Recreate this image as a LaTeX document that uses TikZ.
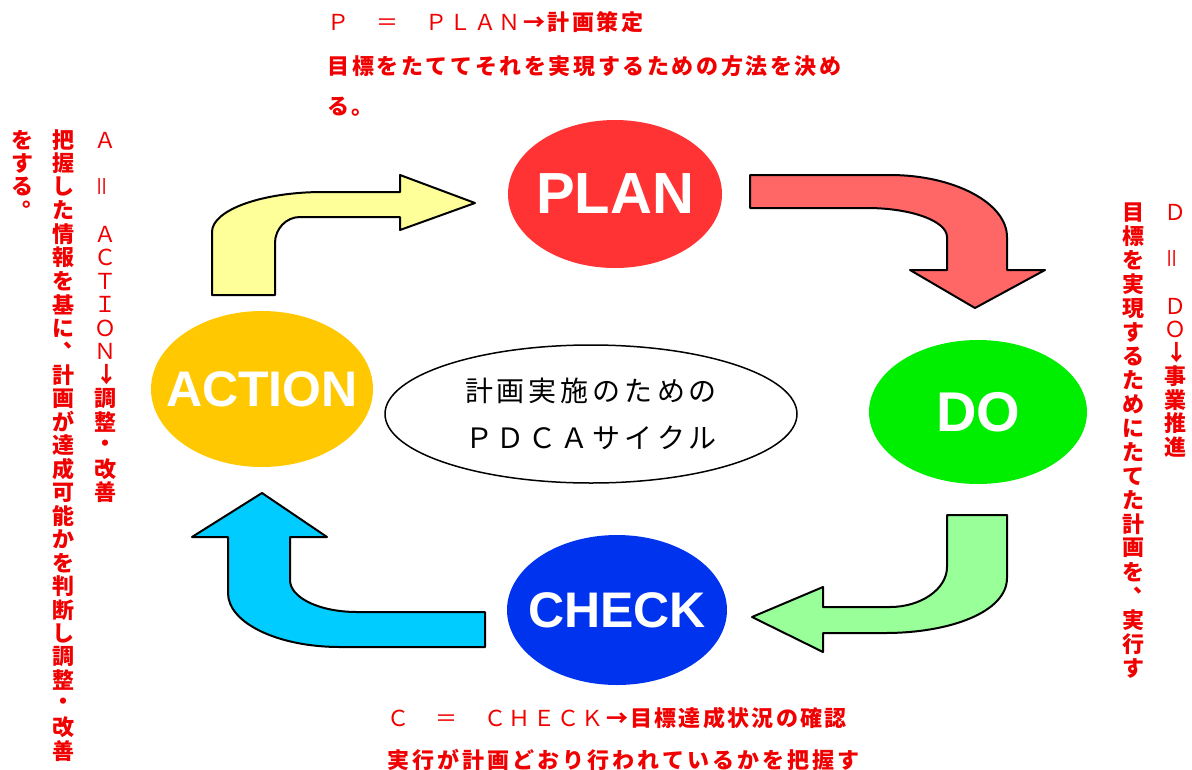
\documentclass[tikz,border=0pt]{standalone}
\usepackage{fontspec}
\usepackage{graphicx}
\setmainfont{Liberation Sans}
\newfontfamily\jp{Noto Sans CJK JP}
\usetikzlibrary{shapes.geometric}
\definecolor{txtred}{RGB}{240,0,0}
\definecolor{planred}{RGB}{255,51,51}
\definecolor{dogreen}{RGB}{0,238,0}
\definecolor{checkblue}{RGB}{0,51,238}
\definecolor{actgold}{RGB}{255,200,0}
\definecolor{ayellow}{RGB}{255,255,153}
\definecolor{ared}{RGB}{255,102,102}
\definecolor{agreen}{RGB}{153,255,153}
\definecolor{ablue}{RGB}{0,204,255}

\ExplSyntaxOn
\tl_const:Nn \c_my_latin_tl {ＰＬＡＮＤＯＣＨＥＫＴＩ＝}
\cs_new_protected:Npn \my_cell:n #1
  {
    \tl_if_single_token:nTF {#1}
      { \tl_if_in:NnTF \c_my_latin_tl {#1} { \mdseries #1 } { #1 } }
      { #1 }
  }
\NewDocumentCommand\hcells{mm}
  {
    \hbox:n { \tl_map_inline:nn {#2} { \hbox_to_wd:nn {#1} { \hss \my_cell:n {##1} \hss } } }
  }
\NewDocumentCommand\vcells{mm}
  {
    \vbox:n
      {
        \offinterlineskip
        \tl_map_inline:nn {#2}
          { \vbox_to_ht:nn {#1} { \vss \hbox_to_wd:nn {1.3em} { \hss \my_cell:n {##1} \hss } \vss } }
      }
  }
\NewDocumentCommand\vp{m}
  {
    \hbox_to_wd:nn {1em} { \rule[-0.12em]{0pt}{1em} \skip_horizontal:n {0.5em} \hbox_to_wd:nn {0.5em} { \raisebox{0.55em}{#1} \hss } }
  }
\NewDocumentCommand\vrot{mm}
  {
    \rotatebox[origin=c]{#1}{#2}
  }
\ExplSyntaxOff

\tikzset{
  rt/.style={inner sep=0pt, text=txtred, font=\jp\bfseries\fontsize{22}{22}\selectfont},
  blockarrow/.style={draw=black, line width=2pt, line join=round},
  stage/.style={ellipse, inner sep=0pt, text=white, font=\rmfamily\bfseries},
}

\begin{document}
\begin{tikzpicture}[x=1pt,y=-1pt]
\path[use as bounding box, fill=white] (0,0) rectangle (1192,769);

% block arrows
\draw[blockarrow, fill=ayellow] (212,295) -- (212,232) .. controls (212,210) and (262,192) .. (323,192)
  -- (400,192) -- (400,175) -- (475,203) -- (400,230) -- (400,217) -- (300,217)
  .. controls (286,217) and (275,229) .. (275,243) -- (275,295) -- cycle;
\draw[blockarrow, fill=ared] (750,175) -- (890,175) .. controls (954,175) and (1007,203) .. (1007,237)
  -- (1007,270) -- (1045,270) -- (975,308) -- (910,270) -- (947,270) -- (947,237)
  .. controls (947,221) and (911,208) .. (867,208) -- (750,208) -- cycle;
\draw[blockarrow, fill=agreen] (947,515) -- (1007,515) -- (1007,578) .. controls (1007,612) and (950,633) .. (885,633)
  -- (823,633) -- (823,652) -- (752,617) -- (823,587) -- (823,607) -- (890,607)
  .. controls (921,607) and (947,589) .. (947,567) -- cycle;
\draw[blockarrow, fill=ablue] (228,537) -- (192,537) -- (262,493) -- (327,537) -- (290,537) -- (290,580)
  .. controls (290,598) and (320,612) .. (357,612) -- (485,612) -- (485,647) -- (340,647)
  .. controls (278,647) and (228,623) .. (228,593) -- cycle;

% stage ellipses
\node[stage, fill=planred, minimum width=214pt, minimum height=148pt] (plan) at (615,194)
  {\makebox[0pt]{\fontsize{58}{58}\selectfont PLAN}};
\node[stage, fill=dogreen, minimum width=218pt, minimum height=144pt] (do) at (978,412)
  {\makebox[0pt]{\fontsize{56}{56}\selectfont DO}};
\node[stage, fill=checkblue, minimum width=220pt, minimum height=150pt] (check) at (617,610)
  {\makebox[0pt]{\fontsize{50}{50}\selectfont CHECK}};
\node[stage, fill=actgold, minimum width=222pt, minimum height=156pt] (action) at (262,389)
  {\makebox[0pt]{\fontsize{50}{50}\selectfont ACTION}};

% centre ellipse
\node[ellipse, draw=black, line width=1.5pt, fill=white, minimum width=412pt, minimum height=138pt,
  inner sep=0pt, align=center, font=\jp\fontsize{28}{47}\selectfont] (centre) at (591,414)
  {\hcells{32pt}{計画実施のための}\\\hcells{32pt}{ＰＤＣＡサイクル}};

% top text (PLAN)
\node[rt, anchor=base west] (ptitle) at (326,30) {\hcells{24.5pt}{Ｐ　＝　ＰＬＡＮ→計画策定}};
\node[rt, anchor=base west] (pdesc1) at (326,74) {\hcells{24.6pt}{目標をたててそれを実現するための方法を決め}};
\node[rt, anchor=base west] (pdesc2) at (326,114) {\hcells{24.5pt}{る。}};

% bottom text (CHECK)
\node[rt, anchor=base west] (ctitle) at (386,726) {\hcells{24.3pt}{Ｃ　＝　ＣＨＥＣＫ→目標達成状況の確認}};
\node[rt, anchor=base west] (cdesc) at (386,768) {\hcells{25pt}{実行が計画どおり行われているかを把握す}};

% left vertical text (ACTION)
\node[rt, anchor=north] (atitle) at (105,128)
  {\vcells{23.5pt}{Ａ　{\vrot{90}{\mdseries ＝}}　ＡＣＴＩＯＮ{\vrot{-90}{→}}調整・改善}};
\node[rt, anchor=north] (adesc1) at (63,128)
  {\vcells{23.5pt}{把握した情報を基に{\vp{、}}計画が達成可能かを判断し調整・改善}};
\node[rt, anchor=north] (adesc2) at (22,128)
  {\vcells{23.5pt}{をする{\vp{。}}}};

% right vertical text (DO)
\node[rt, anchor=north] (dtitle) at (1175,200)
  {\vcells{23.5pt}{Ｄ　{\vrot{90}{\mdseries ＝}}　ＤＯ{\vrot{-90}{→}}事業推進}};
\node[rt, anchor=north] (ddesc) at (1133,200)
  {\vcells{24pt}{目標を実現するためにたてた計画を{\vp{、}}実行す}};
\end{tikzpicture}
\end{document}
